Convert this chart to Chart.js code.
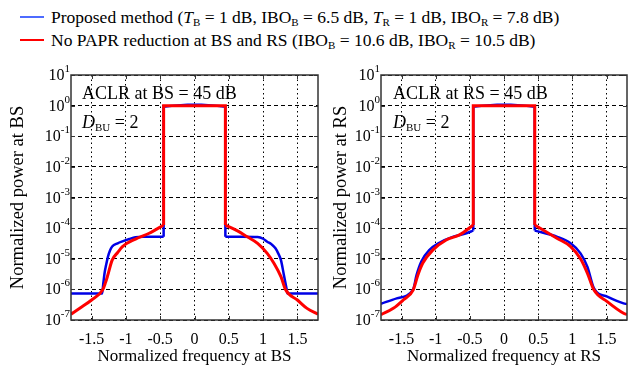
<!DOCTYPE html>
<html>
<head>
<meta charset="utf-8">
<script src="https://cdn.jsdelivr.net/npm/chart.js@4.4.0/dist/chart.umd.min.js"></script>
<style>
  body { margin: 0; width: 628px; height: 367px; background: #fff; position: relative; overflow: hidden;
         font-family: "Liberation Serif", "Times New Roman", Times, "Nimbus Roman", "DejaVu Serif", serif; color: #000; }
  .abs { position: absolute; white-space: nowrap; }
  .txt { font-size: 17.5px; line-height: 20px; }
  .note { font-size: 18px; line-height: 20px; }
  sub { font-size: 11px; vertical-align: -3px; line-height: 0; }
  .swatch { position: absolute; height: 1.5px; width: 24px; }
</style>
</head>
<body>

<!-- legend -->
<div class="swatch" style="left:20px; top:16px; background:#4d6bff"></div>
<div class="abs txt" style="left:51px; top:7px">Proposed method (<i>T</i><sub>B</sub> = 1 dB, IBO<sub>B</sub> = 6.5 dB, <i>T</i><sub>R</sub> = 1 dB, IBO<sub>R</sub> = 7.8 dB)</div>
<div class="swatch" style="left:20px; top:39px; background:#ff0000"></div>
<div class="abs txt" style="left:51px; top:30px">No PAPR reduction at BS and RS (IBO<sub>B</sub> = 10.6 dB, IBO<sub>R</sub> = 10.5 dB)</div>

<div class="abs" style="left:0; top:60px; width:322px; height:307px"><canvas id="chart-bs"></canvas></div>
<div class="abs" style="left:322px; top:60px; width:306px; height:307px"><canvas id="chart-rs"></canvas></div>

<!-- in-plot notes -->
<div class="abs note" style="left:82px; top:83px">ACLR at BS = 45 dB</div>
<div class="abs note" style="left:82px; top:112px"><i>D</i><sub>BU</sub> = 2</div>
<div class="abs note" style="left:393px; top:83px">ACLR at RS = 45 dB</div>
<div class="abs note" style="left:393px; top:112px"><i>D</i><sub>BU</sub> = 2</div>

<script>
// axis ticks
const xTicks = [-1.5, -1, -0.5, 0, 0.5, 1, 1.5];
const yExps = [-7, -6, -5, -4, -3, -2, -1, 0, 1];

// BS, proposed method (blue)
const bsPropFreq = [-1.8, -1.345, -1.33, -1.31, -1.29, -1.26, -1.23, -1.2, -1.12, -1.05, -0.95, -0.86, -0.75, -0.45,
                    -0.45, -0.3, -0.1, 0.1, 0.3, 0.45,
                    0.45, 0.7, 0.92, 1.0, 1.06, 1.12, 1.18, 1.22, 1.26, 1.3, 1.34, 1.355, 1.8];
const bsPropPow  = [7.4e-7, 7.4e-7, 1.5e-6, 3.5e-6, 6e-6, 1.2e-5, 1.9e-5, 2.5e-5, 3.2e-5, 3.7e-5, 4.4e-5, 5e-5, 5.2e-5, 5.2e-5,
                    0.92, 1.0, 1.06, 1.06, 1.0, 0.92,
                    5.2e-5, 5.2e-5, 5.1e-5, 4.5e-5, 3.6e-5, 3.0e-5, 2.2e-5, 1.5e-5, 9e-6, 3.2e-6, 1.1e-6, 7.4e-7, 7.4e-7];

// BS, no PAPR reduction (red)
const bsRefFreq = [-1.8, -1.64, -1.5, -1.34, -1.3, -1.27, -1.2, -1.12, -1.05, -0.86, -0.66, -0.45,
                   -0.45, 0.45,
                   0.45, 0.62, 0.77, 0.92, 1.06, 1.16, 1.26, 1.33, 1.5, 1.64, 1.8];
const bsRefPow  = [1.55e-7, 2.7e-7, 4.5e-7, 9.5e-7, 1.6e-6, 2.6e-6, 9e-6, 1.6e-5, 2.5e-5, 4.4e-5, 6.8e-5, 1.26e-4,
                   1.0, 1.0,
                   1.26e-4, 8.3e-5, 5.2e-5, 3.2e-5, 1.5e-5, 7e-6, 2.6e-6, 9.5e-7, 4.5e-7, 2.4e-7, 1.55e-7];

// RS, proposed method (blue)
const rsPropFreq = [-1.8, -1.57, -1.33, -1.28, -1.21, -1.09, -0.94, -0.75, -0.55, -0.45,
                    -0.45, -0.3, -0.1, 0.1, 0.3, 0.45,
                    0.45, 0.78, 0.975, 1.12, 1.22, 1.317, 1.51, 1.75, 1.8];
const rsPropPow  = [3.4e-7, 5.1e-7, 1.0e-6, 2.9e-6, 8.1e-6, 1.95e-5, 3.4e-5, 5.2e-5, 6.8e-5, 8.3e-5,
                    0.92, 1.0, 1.06, 1.06, 1.0, 0.92,
                    8.3e-5, 5.2e-5, 3.2e-5, 1.5e-5, 5.5e-6, 1.07e-6, 5.8e-7, 3.5e-7, 3.3e-7];

// RS, no PAPR reduction (red)
const rsRefFreq = [-1.8, -1.62, -1.475, -1.33, -1.26, -1.19, -1.04, -0.846, -0.652, -0.45,
                   -0.45, 0.45,
                   0.45, 0.78, 0.975, 1.12, 1.22, 1.317, 1.51, 1.75, 1.8];
const rsRefPow  = [1.5e-7, 2.4e-7, 4.5e-7, 9.5e-7, 2.95e-6, 7.1e-6, 1.95e-5, 4.1e-5, 6e-5, 1.26e-4,
                   1.0, 1.0,
                   1.26e-4, 4.6e-5, 2.5e-5, 1e-5, 3.4e-6, 9.5e-7, 4e-7, 1.66e-7, 1.5e-7];

const FONT = '"Liberation Serif", "Times New Roman", Times, "Nimbus Roman", "DejaVu Serif", serif';
const BLUE = '#0000e6';
const RED = '#ff0000';

// split a curve at its two vertical jumps: smooth skirts, straight-edged band
function splitCurve(xs, ys) {
    const pts = xs.map((x, i) => ({ x: x, y: ys[i] }));
    const jumps = [];
    for (let i = 1; i < pts.length; i++) if (pts[i].x === pts[i - 1].x) jumps.push(i);
    const [j1, j2] = jumps;
    return {
        left: pts.slice(0, j1),
        band: pts.slice(j1 - 1, j2 + 1),
        right: pts.slice(j2)
    };
}

function seriesSets(xs, ys, color, width, order) {
    const c = splitCurve(xs, ys);
    const base = { borderColor: color, borderWidth: width, order: order, pointRadius: 0 };
    return [
        Object.assign({ data: c.left, cubicInterpolationMode: 'monotone' }, base),
        Object.assign({ data: c.band, tension: 0 }, base),
        Object.assign({ data: c.right, cubicInterpolationMode: 'monotone' }, base)
    ];
}

// frame, inward ticks and 10^n labels
const framePlugin = {
    id: 'frame',
    afterDatasetsDraw(chart) {
        const ctx = chart.ctx;
        const a = chart.chartArea;
        const xs = chart.scales.x, ys = chart.scales.y;
        ctx.save();
        ctx.strokeStyle = '#333';
        ctx.lineWidth = 1;
        ctx.setLineDash([]);
        ctx.beginPath();
        xTicks.forEach(v => {
            const px = Math.round(xs.getPixelForValue(v)) + 0.5;
            ctx.moveTo(px, a.bottom); ctx.lineTo(px, a.bottom - 4);
            ctx.moveTo(px, a.top); ctx.lineTo(px, a.top + 4);
        });
        yExps.forEach(k => {
            const py = Math.round(ys.getPixelForValue(Math.pow(10, k))) + 0.5;
            ctx.moveTo(a.left, py); ctx.lineTo(a.left + 4, py);
            ctx.moveTo(a.right, py); ctx.lineTo(a.right - 4, py);
        });
        ctx.stroke();
        ctx.lineWidth = 1.5;
        ctx.strokeRect(a.left, a.top, a.right - a.left, a.bottom - a.top);

        ctx.fillStyle = '#000';
        ctx.textBaseline = 'alphabetic';
        ctx.textAlign = 'left';
        yExps.forEach(k => {
            const py = ys.getPixelForValue(Math.pow(10, k));
            const exp = String(k);
            ctx.font = '16px ' + FONT;
            const wb = ctx.measureText('10').width;
            ctx.font = '11px ' + FONT;
            const we = ctx.measureText(exp).width;
            const xr = a.left - 1;
            ctx.font = '16px ' + FONT;
            ctx.fillText('10', xr - we - wb, py + 5);
            ctx.font = '11px ' + FONT;
            ctx.fillText(exp, xr - we, py - 3);
        });
        ctx.restore();
    }
};

function makeChart(id, blueX, blueY, redX, redY, yTitle, xTitle, yWidth, padLeft, padRight) {
    return new Chart(document.getElementById(id), {
        type: 'line',
        data: {
            datasets: seriesSets(redX, redY, RED, 3, 0).concat(seriesSets(blueX, blueY, BLUE, 2.5, 1))
        },
        options: {
            responsive: true,
            maintainAspectRatio: false,
            animation: false,
            elements: { line: { borderCapStyle: 'butt', borderJoinStyle: 'miter' } },
            layout: { padding: { top: 15, left: padLeft, right: padRight, bottom: 0 } },
            plugins: { legend: { display: false }, tooltip: { enabled: false } },
            scales: {
                x: {
                    type: 'linear', min: -1.8, max: 1.8,
                    afterBuildTicks: s => { s.ticks = xTicks.map(v => ({ value: v })); },
                    afterFit: s => { s.height = 47; },
                    grid: { color: '#000', lineWidth: 1, drawTicks: false },
                    border: { display: false, dash: [1.5, 3] },
                    ticks: { color: '#000', font: { family: FONT, size: 16 }, padding: 10, maxRotation: 0, autoSkip: false,
                             callback: v => String(v) },
                    title: { display: true, text: xTitle, color: '#000', font: { family: FONT, size: 17 }, padding: 0 }
                },
                y: {
                    type: 'logarithmic', min: 1e-7, max: 10,
                    afterBuildTicks: s => { s.ticks = yExps.map(k => ({ value: Math.pow(10, k) })); },
                    afterFit: s => { s.width = yWidth; },
                    grid: { color: '#000', lineWidth: 1, drawTicks: false },
                    border: { display: false, dash: [4, 3] },
                    ticks: { display: false },
                    title: { display: true, text: yTitle, color: '#000', font: { family: FONT, size: 18.5 }, padding: 0 }
                }
            }
        },
        plugins: [framePlugin]
    });
}

makeChart('chart-bs', bsPropFreq, bsPropPow, bsRefFreq, bsRefPow,
          'Normalized power at BS', 'Normalized frequency at BS', 64, 7, 4);
makeChart('chart-rs', rsPropFreq, rsPropPow, rsRefFreq, rsRefPow,
          'Normalized power at RS', 'Normalized frequency at RS', 51, 8, 1);
</script>
</body>
</html>
